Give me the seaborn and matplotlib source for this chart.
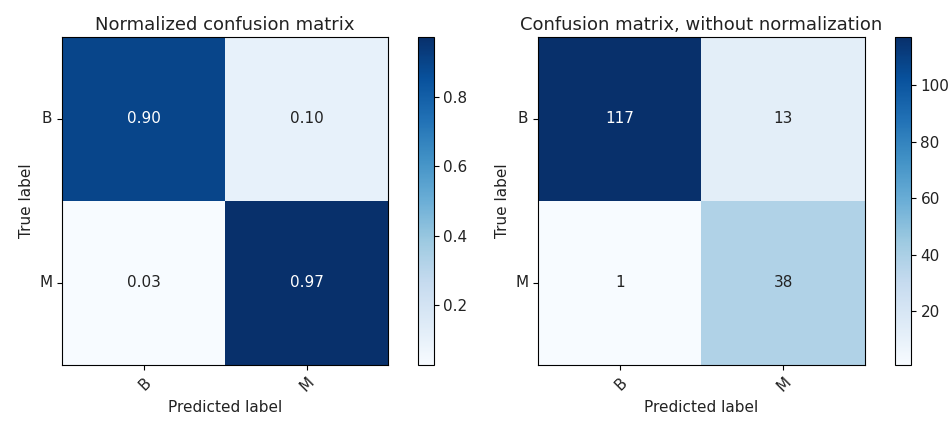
import numpy as np
import matplotlib
matplotlib.use("Agg")
import matplotlib.pyplot as plt
import seaborn as sns

classes = ["B", "M"]
counts = np.array([[117, 13],
                   [1, 38]])
titles = ["Normalized confusion matrix", "Confusion matrix, without normalization"]

normalized = counts / counts.sum(axis=1, keepdims=True)

sns.set_style("white")
plt.rcParams['font.family'] = ['DejaVu Sans']

fig = plt.figure(figsize=(9.51, 4.25), dpi=100)
ax_pos = [[0.0652, 0.1412, 0.3428, 0.7718], [0.5657, 0.1412, 0.3438, 0.7718]]
cb_pos = [[0.4395, 0.1412, 0.0165, 0.7718], [0.9411, 0.1412, 0.0165, 0.7718]]

for i, (mat, fmt) in enumerate([(normalized, ".2f"), (counts, "d")]):
    ax = fig.add_axes(ax_pos[i])
    cax = fig.add_axes(cb_pos[i])
    sns.heatmap(mat, ax=ax, cbar_ax=cax, cmap="Blues", annot=False,
                xticklabels=classes, yticklabels=classes, square=False)
    thresh = mat.max() / 2.0
    for r in range(mat.shape[0]):
        for c in range(mat.shape[1]):
            ax.text(c + 0.5, r + 0.5, format(mat[r, c], fmt),
                    ha="center", va="center", fontsize=11,
                    color="white" if mat[r, c] > thresh else "#222222")
    for s in ax.spines.values():
        s.set_visible(True)
        s.set_linewidth(0.8)
        s.set_color("black")
    ax.tick_params(axis="both", which="both", length=3.5, width=0.8, color="black",
                   left=True, bottom=True, labelsize=11, labelcolor="#222222")
    ax.set_xticklabels(classes, rotation=45, ha="right", rotation_mode="anchor")
    ax.set_yticklabels(classes, rotation=0)
    ax.set_title(titles[i], fontsize=13, color="#222222", pad=5)
    ax.set_xlabel("Predicted label", fontsize=11, color="#222222")
    ax.set_ylabel("True label", fontsize=11, color="#222222")
    cb = ax.collections[0].colorbar
    cb.outline.set_visible(True)
    cb.outline.set_linewidth(0.8)
    cb.outline.set_edgecolor("black")
    cax.tick_params(length=3.5, width=0.8, color="black", labelsize=11, right=True,
                    labelcolor="#222222")

fig.savefig("out.png", dpi=100, facecolor="white")
